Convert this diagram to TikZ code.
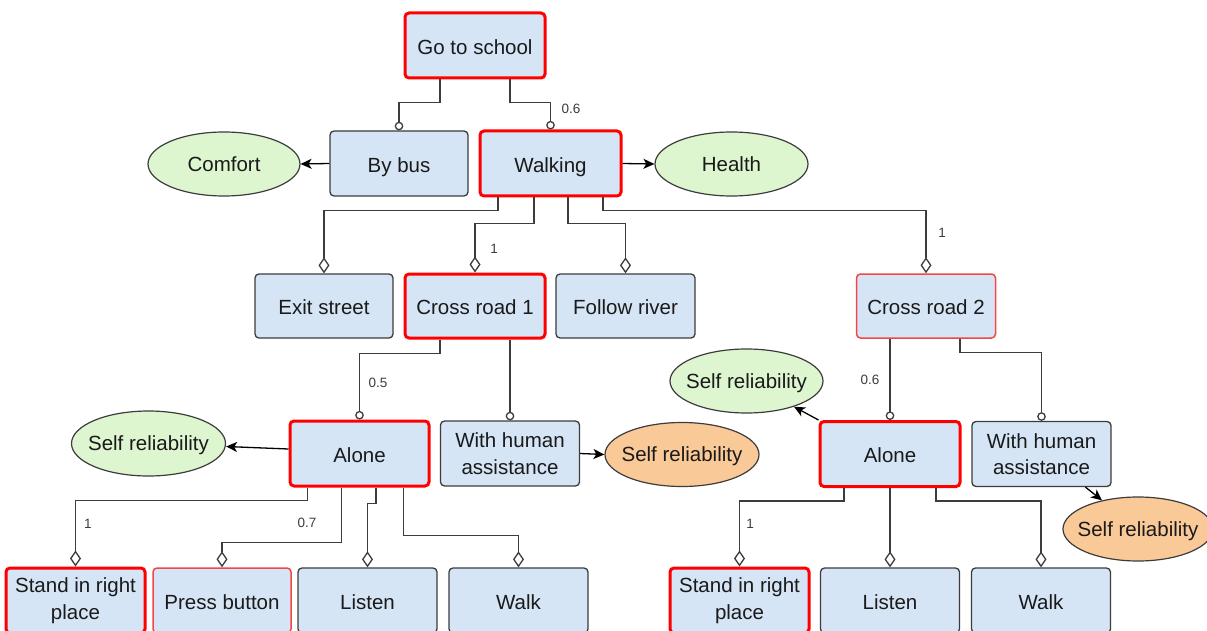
\documentclass[tikz,border=0pt]{standalone}
\usepackage{fontspec}
\setmainfont{Liberation Sans}
\usetikzlibrary{arrows.meta,shapes.geometric}
\definecolor{boxfill}{RGB}{213,229,245}
\definecolor{greenfill}{RGB}{221,246,208}
\definecolor{orangefill}{RGB}{250,201,152}
\definecolor{edgegray}{RGB}{60,60,60}
\definecolor{txtcol}{RGB}{26,26,26}
\definecolor{thinred}{RGB}{245,70,70}
\newcommand{\zw}[1]{\makebox[0pt]{#1}}
\tikzset{
  box/.style={draw=edgegray, fill=boxfill, rounded corners=4pt, minimum width=139pt,
    minimum height=65pt, inner sep=0pt, align=center, line width=1.3pt, text=txtcol,
    font=\fontsize{20.5}{26.5}\selectfont},
  redbox/.style={box, draw=red, line width=3pt},
  thinredbox/.style={box, draw=thinred, line width=1.5pt},
  one/.style={text height=19pt, text depth=1.4pt},
  ell/.style={ellipse, draw=edgegray, line width=1.2pt, minimum width=153pt,
    minimum height=64pt, inner sep=0pt, text=txtcol, font=\fontsize{20.5}{26.5}\selectfont,
    text height=16pt, text depth=1.6pt},
  greenell/.style={ell, fill=greenfill},
  orangeell/.style={ell, fill=orangefill},
  conn/.style={draw=edgegray, line width=1.3pt},
  circ/.style={conn, -{Circle[open, length=8.6pt, width=8.6pt]}},
  dia/.style={conn, -{Diamond[open, length=16pt, width=11pt]}},
  arr/.style={draw=black, line width=1.3pt, -{Stealth[length=11pt, width=10pt, inset=3pt]}},
  lbl/.style={text=edgegray, font=\fontsize{13.5}{16}\selectfont, inner sep=0pt}
}
\begin{document}
\begin{tikzpicture}[x=1pt,y=-1pt]
\useasboundingbox (0,0) rectangle (1207,631);
% nodes
\node[redbox, one, minimum width=140pt] (gs) at (475,45.5) {Go to school};
\node[box, one, minimum width=138pt] (bus) at (399,163.5) {By bus};
\node[redbox, one, minimum width=141pt] (walk) at (550.5,163.5) {Walking};
\node[greenell, minimum width=152pt] (comfort) at (224,164) {\zw{Comfort}};
\node[greenell] (health) at (731.5,164) {\zw{Health}};
\node[box, one, minimum width=138pt, minimum height=64pt] (exit) at (324,306) {Exit street};
\node[redbox, one, minimum width=140pt, minimum height=64pt] (cr1) at (475,306) {Cross road 1};
\node[box, one, minimum height=64pt] (river) at (625.5,306) {Follow river};
\node[thinredbox, one, minimum height=64pt] (cr2) at (926,306) {Cross road 2};
\node[redbox, one] (alone1) at (359.5,453.5) {Alone};
\node[box] (wha1) at (510,453.5) {With human\\assistance};
\node[greenell, minimum width=154pt, minimum height=65pt] (sr1g) at (148.5,443.5) {\zw{Self reliability}};
\node[orangeell, minimum width=154pt] (sr1o) at (682,454.5) {\zw{Self reliability}};
\node[redbox, one, minimum width=140pt] (alone2) at (890,454) {Alone};
\node[box] (wha2) at (1041.5,454) {With human\\assistance};
\node[greenell] (sr2g) at (746.5,381) {\zw{Self reliability}};
\node[orangeell, minimum width=150pt] (sr2o) at (1138,529) {\zw{Self reliability}};
\node[redbox] (stand1) at (75.5,600.5) {Stand in right\\place};
\node[thinredbox, one, minimum width=138pt] (press) at (222,600.5) {Press button};
\node[box, one] (listen1) at (367.5,600.5) {Listen};
\node[box, one] (walk1) at (518.5,600.5) {Walk};
\node[redbox] (stand2) at (739.5,600.5) {Stand in right\\place};
\node[box, one] (listen2) at (890,600.5) {Listen};
\node[box, one] (walk2) at (1041,600.5) {Walk};
% labels
\node[lbl] (l1) at (571,109) {0.6};
\node[lbl] (l2) at (494,249) {1};
\node[lbl] (l3) at (942,233) {1};
\node[lbl] (l4) at (378,383) {0.5};
\node[lbl] (l5) at (870,380) {0.6};
\node[lbl] (l6) at (88,524) {1};
\node[lbl] (l7) at (307,523) {0.7};
\node[lbl] (l8) at (750,524) {1};
% connectors
\draw[circ] ([xshift=-35pt]gs.south) -- ++(0,23) -| (bus.north);
\draw[circ] ([xshift=35pt]gs.south) -- ++(0,23) -| (walk.north);
\draw[dia] ([xshift=-52.5pt]walk.south) -- ++(0,13) -| (exit.north);
\draw[dia] ([xshift=-16.5pt]walk.south) -- ++(0,26) -| (cr1.north);
\draw[dia] ([xshift=17.5pt]walk.south) -- ++(0,26) -| (river.north);
\draw[dia] ([xshift=52.5pt]walk.south) -- ++(0,13) -| (cr2.north);
\draw[circ] ([xshift=-35pt]cr1.south) -- ++(0,14) -| (alone1.north);
\draw[circ] ([xshift=35pt]cr1.south) -- (wha1.north);
\draw[circ] ([xshift=-36pt]cr2.south) -- (alone2.north);
\draw[circ] ([xshift=34pt]cr2.south) -- ++(0,14) -| (wha2.north);
\draw[dia] ([xshift=-52pt]alone1.south) -- ++(0,13) -| (stand1.north);
\draw[dia] ([xshift=-18pt]alone1.south) -- ++(0,55) -| (press.north);
\draw[dia] ([xshift=16.5pt]alone1.south) -- ++(0,16) -| (listen1.north);
\draw[dia] ([xshift=44pt]alone1.south) -- ++(0,48) -| (walk1.north);
\draw[dia] ([xshift=-46pt]alone2.south) -- ++(0,13) -| (stand2.north);
\draw[dia] (alone2.south) -- (listen2.north);
\draw[dia] ([xshift=46pt]alone2.south) -- ++(0,13) -| (walk2.north);
% arrows
\draw[arr] (bus.west) -- (comfort.east);
\draw[arr] (walk.east) -- (health.west);
\draw[arr] ([yshift=4.5pt]alone1.west) -- ([yshift=-3pt]sr1g.east);
\draw[arr] (wha1.east) -- (sr1o.west);
\draw[arr] (alone2.north west) -- (sr2g);
\draw[arr] ([xshift=44pt]wha2.south) -- (sr2o);
\end{tikzpicture}
\end{document}
